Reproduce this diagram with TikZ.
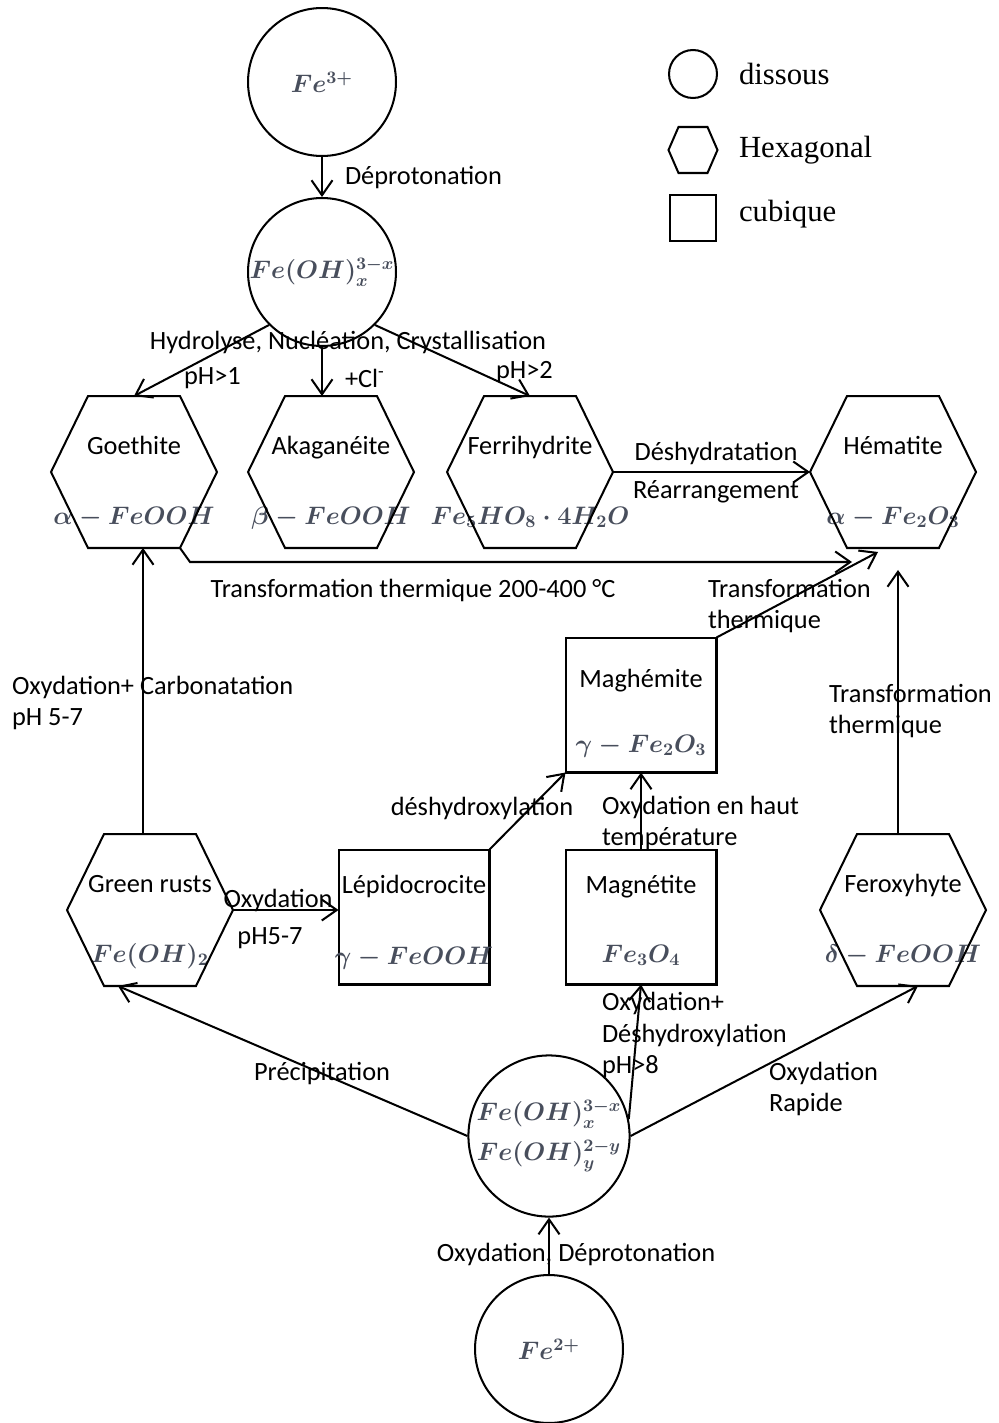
\documentclass[tikz,border=0pt]{standalone}
\usepackage[no-math]{fontspec}
\setmainfont{Carlito}
\newfontfamily\legendfont{Liberation Serif}
\usepackage{amsmath}
\usepackage{xcolor}
\usepackage{tikz}
\usetikzlibrary{arrows.meta,calc,positioning}

\definecolor{formulagray}{RGB}{72,78,92}

\begin{document}
\begin{tikzpicture}[x=0.02cm, y=-0.02cm, line width=1.15pt,
    every node/.style={font=\fontsize{15}{18.1}\selectfont},
    every label/.style={text height=11pt, text depth=3pt},
    dissous/.style={circle, draw, minimum size=2.96cm, inner sep=0pt},
    hexa/.style={rectangle, minimum width=3.32cm, minimum height=3.04cm, inner sep=0pt, outer sep=0pt},
    cubique/.style={rectangle, draw, minimum width=3.02cm, minimum height=2.7cm, inner sep=0pt, outer sep=0pt},
    formula/.style={font=\fontsize{14.5}{17}\selectfont\boldmath, text=formulagray},
    note/.style={inner sep=0pt, align=left},
    legendtext/.style={font=\fontsize{17.5}{21}\selectfont\legendfont, anchor=west, inner sep=0pt},
    line/.style={draw, -{Straight Barb[length=0.3cm, width=0.42cm]}}]

    \useasboundingbox (0,0) rectangle (999,1423);

    % Legend
    \node [dissous, minimum size=0.96cm] (lgc) at (693,74) {};
    \node [hexa, minimum width=0.98cm, minimum height=0.92cm] (lgh) at (693,150) {};
    \node [cubique, minimum width=0.92cm, minimum height=0.92cm] (lgs) at (693,218) {};
    \node [legendtext] (lgc_txt) at (738,74) {dissous};
    \node [legendtext] (lgh_txt) at (738,150) {Hexagonal};
    \node [legendtext] (lgs_txt) at (738,214) {cubique};

    % Fe3+ side
    \node [dissous, formula] (fe3) at (322,82) {$Fe^{3+}$};
    \node [dissous, formula] (feoh) at (322,272) {$Fe(OH)_x^{3-x}$};

    % Hexagonal phases
    \node [hexa, label={[yshift=0.5cm]center:Goethite}, label={[formula, yshift=-0.9cm]center:$\alpha-FeOOH$}] (goe) at (134,472) {};
    \node [hexa, label={[yshift=0.5cm]center:Akaganéite}, label={[formula, yshift=-0.9cm]center:$\beta-FeOOH$}] (aka) at (331,472) {};
    \node [hexa, label={[yshift=0.5cm]center:Ferrihydrite}, label={[formula, yshift=-0.9cm]center:$Fe_5HO_8\cdot 4H_2O$}] (fer) at (530,472) {};
    \node [hexa, label={[yshift=0.5cm]center:Hématite}, label={[formula, yshift=-0.9cm]center:$\alpha-Fe_2O_3$}] (hem) at (893,472) {};
    \node [hexa, label={[yshift=0.5cm]center:Green rusts}, label={[formula, yshift=-0.9cm]center:$Fe(OH)_2$}] (gr) at (150,910) {};
    \node [hexa, label={[yshift=0.5cm]center:Feroxyhyte}, label={[formula, yshift=-0.9cm]center:$\delta-FeOOH$}] (fex) at (903,910) {};

    % Cubic phases
    \node [cubique, label={[yshift=0.5cm]center:Maghémite}, label={[formula, yshift=-0.8cm]center:$\gamma-Fe_2O_3$}] (mgh) at (641,705) {};
    \node [cubique, label={[yshift=0.62cm]center:Lépidocrocite}, label={[formula, yshift=-0.8cm]center:$\gamma-FeOOH$}] (lep) at (414,917) {};
    \node [cubique, label={[yshift=0.62cm]center:Magnétite}, label={[formula, yshift=-0.76cm]center:$Fe_3O_4$}] (mgt) at (641,917) {};

    % Fe2+ side
    \node [dissous, formula, align=center, font=\fontsize{14.5}{22.7}\selectfont\boldmath] (mix) at (549,1136) {$Fe(OH)_x^{3-x}$\\$Fe(OH)_y^{2-y}$};
    \node [dissous, formula] (fe2) at (549,1349) {$Fe^{2+}$};

    % Hexagon outlines
    \foreach \n/\c in {goe/0.74cm, aka/0.74cm, fer/0.74cm, hem/0.74cm, gr/0.74cm, fex/0.74cm, lgh/0.2cm}
        \draw (\n.west) -- ([xshift=\c]\n.north west) -- ([xshift=-\c]\n.north east) -- (\n.east)
            -- ([xshift=-\c]\n.south east) -- ([xshift=\c]\n.south west) -- cycle;

    % Connector labels
    \node [note, anchor=west] (l_dep) at (344,178) {Déprotonation};
    \node [note] (l_hyd) at (348,342) {Hydrolyse, Nucléation, Crystallisation};
    \node [note, anchor=west] (l_ph1) at (183,378) {pH>1};
    \node [note, anchor=west] (l_cl) at (344,378) {+Cl\textsuperscript{-}};
    \node [note, anchor=west] (l_ph2) at (495,372) {pH>2};
    \node [note] (l_desh) at (716,453) {Déshydratation};
    \node [note] (l_rear) at (716,492) {Réarrangement};
    \node [note] (l_therm) at (413,590) {Transformation thermique 200-400 °C};
    \node [note, anchor=west] (l_therm2) at (707,606) {Transformation\\thermique};
    \node [note, anchor=west] (l_carb) at (11,703) {Oxydation+ Carbonatation\\pH 5-7};
    \node [note, anchor=west] (l_therm3) at (828,711) {Transformation\\thermique};
    \node [note] (l_deshy) at (482,808) {déshydroxylation};
    \node [note, anchor=west] (l_haut) at (601,823) {Oxydation en haut\\température};
    \node [note] (l_ox1) at (278,900) {Oxydation};
    \node [note] (l_ph57) at (270,938) {pH5-7};
    \node [note, anchor=west] (l_ox2) at (601,1035) {Oxydation+\\Déshydroxylation\\pH>8};
    \node [note] (l_prec) at (322,1073) {Précipitation};
    \node [note, anchor=west] (l_rap) at (768,1089) {Oxydation\\Rapide};
    \node [note] (l_ox3) at (576,1254) {Oxydation, Déprotonation};

    % Connectors
    \draw [line] (fe3) -- (feoh);
    \draw [line] (feoh.225) -- (goe.north);
    \draw [line] (feoh.south) -- (feoh.south |- aka.north);
    \draw [line] (feoh.-45) -- (fer.north);
    \draw [line] (fer.east) -- (hem.west);
    \draw [line] ($(goe.south)+(46,0)$) -- ++(10,14) -- ($(hem.south)+(-41,14)$);
    \draw [line] (mgh.north east) -- ($(hem.south)+(-15,4)$);
    \coordinate (hem_b) at ($(hem.south)+(0,22)$);
    \draw [line] ([xshift=-0.1cm]fex.north) -- ([xshift=-0.1cm]fex.north |- hem_b);
    \draw [line] ([xshift=-0.14cm]gr.north) -- ([xshift=-0.14cm]gr.north |- goe.south);
    \draw [line] (gr.east) -- (gr.east -| lep.west);
    \draw [line] (lep.north east) -- (mgh.south west);
    \draw [line] (mgt.north) -- (mgh.south);
    \draw [line] (mix.west) -- ($(gr.south)+(-32,0)$);
    \draw [line] (mix.12) -- (mgt.south);
    \draw [line] (mix.east) -- ($(fex.south)+(15,0)$);
    \draw [line] (fe2) -- (mix);
\end{tikzpicture}
\end{document}
